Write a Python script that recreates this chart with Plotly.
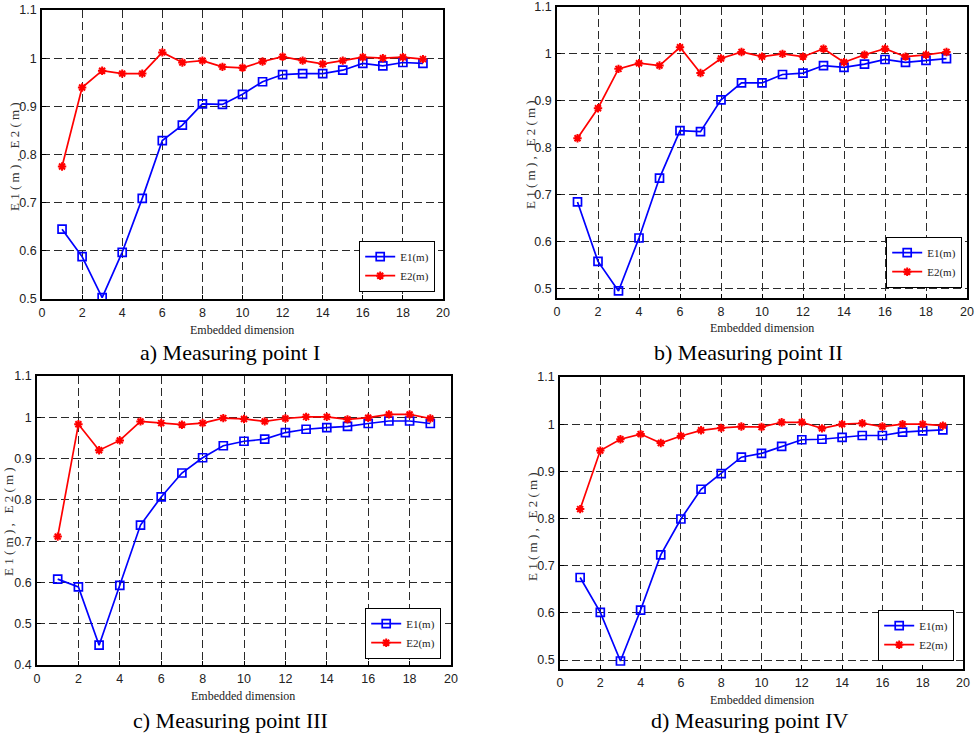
import plotly.graph_objects as go

W, H = 976, 737

dims = list(range(1, 20))

e1_a = [0.645, 0.588, 0.503, 0.597, 0.709, 0.829, 0.861, 0.905, 0.904, 0.925,
        0.951, 0.966, 0.968, 0.968, 0.975, 0.989, 0.984, 0.991, 0.989]
e2_a = [0.775, 0.939, 0.974, 0.968, 0.968, 1.012, 0.991, 0.995, 0.982, 0.980,
        0.993, 1.003, 0.995, 0.988, 0.995, 1.002, 1.000, 1.002, 0.998]

e1_b = [0.684, 0.557, 0.494, 0.607, 0.735, 0.836, 0.834, 0.902, 0.938, 0.938,
        0.956, 0.959, 0.975, 0.971, 0.978, 0.988, 0.982, 0.986, 0.990]
e2_b = [0.820, 0.884, 0.968, 0.980, 0.975, 1.014, 0.959, 0.990, 1.004, 0.994,
        1.000, 0.994, 1.011, 0.982, 0.998, 1.011, 0.994, 0.998, 1.004]

e1_c = [0.608, 0.589, 0.448, 0.593, 0.739, 0.807, 0.865, 0.902, 0.931, 0.942,
        0.947, 0.963, 0.971, 0.975, 0.978, 0.985, 0.991, 0.991, 0.985]
e2_c = [0.711, 0.983, 0.920, 0.944, 0.990, 0.986, 0.982, 0.986, 0.998, 0.996,
        0.990, 0.997, 1.001, 1.001, 0.995, 0.999, 1.007, 1.007, 0.997]

e1_d = [0.675, 0.601, 0.498, 0.606, 0.723, 0.799, 0.862, 0.895, 0.930, 0.938,
        0.953, 0.967, 0.968, 0.972, 0.976, 0.976, 0.983, 0.986, 0.988]
e2_d = [0.820, 0.944, 0.968, 0.979, 0.960, 0.975, 0.987, 0.992, 0.995, 0.994,
        1.004, 1.004, 0.991, 1.000, 1.002, 0.995, 1.000, 1.000, 0.997]

captions = ["a) Measuring point I", "b) Measuring point II",
            "c) Measuring point III", "d) Measuring point IV"]
series_names = ["E1(m)", "E2(m)"]
x_title = "Embedded dimension"
y_title = "E 1 ( m ) ,   E 2 ( m )"

panels = [
    dict(e1=e1_a, e2=e2_a, box=(42, 443, 10, 299), yr=(0.5, 1.1),
         leg=(435, 292), yt=(14, 157), xt=(242, 330), cap=(230, 353)),
    dict(e1=e1_b, e2=e2_b, box=(557, 967, 7, 298), yr=(0.479, 1.1),
         leg=(962, 288), yt=(530, 155), xt=(762, 328), cap=(748, 353)),
    dict(e1=e1_c, e2=e2_c, box=(37, 451, 376, 665), yr=(0.4, 1.1),
         leg=(441, 659), yt=(8, 522), xt=(243, 696), cap=(230, 720)),
    dict(e1=e1_d, e2=e2_d, box=(560, 963, 377, 669), yr=(0.481, 1.1),
         leg=(954, 661), yt=(532, 527), xt=(762, 700), cap=(749, 720)),
]

fig = go.Figure()
tickfont = dict(family="Liberation Sans Narrow, Liberation Sans, Arial", size=12.5, color="#222")
serif = "Liberation Serif, Times New Roman, serif"
annotations = []
for i, p in enumerate(panels):
    n = "" if i == 0 else str(i + 1)
    xa, ya = "x" + n, "y" + n
    leg = "legend" + n
    fig.add_trace(go.Scatter(
        x=dims, y=p["e1"], name=series_names[0], xaxis=xa, yaxis=ya, legend=leg,
        mode="lines+markers", line=dict(color="#0000ff", width=1.7),
        marker=dict(symbol="square-open", size=8, color="#0000ff", line=dict(width=1.7))))
    fig.add_trace(go.Scatter(
        x=dims, y=p["e2"], name=series_names[1], xaxis=xa, yaxis=ya, legend=leg,
        mode="lines+markers", line=dict(color="#ff0000", width=1.7),
        marker=dict(symbol="asterisk-open", size=7, color="#ff0000", line=dict(width=2, color="#ff0000"))))
    x0, x1, y0, y1 = p["box"]
    axcommon = dict(showline=True, linecolor="black", linewidth=1.5, mirror=True,
                    ticks="inside", ticklen=4, tickcolor="black", tickwidth=1,
                    showgrid=True, gridcolor="#2a2a2a", gridwidth=1.3, griddash="8px,4px",
                    zeroline=False, tickfont=tickfont, automargin=False)
    fig.layout["xaxis" + n] = dict(domain=[x0 / W, x1 / W], anchor=ya, range=[0, 20],
                                   tickmode="linear", tick0=0, dtick=2, ticklabelstandoff=1, **axcommon)
    tv = [v / 10 for v in range(4, 12) if v / 10 >= p["yr"][0] - 1e-9]
    fig.layout["yaxis" + n] = dict(domain=[1 - y1 / H, 1 - y0 / H], anchor=xa, range=list(p["yr"]),
                                   tickmode="array", tickvals=tv, ticktext=["%g" % v for v in tv],
                                   ticklabelstandoff=1, **axcommon)
    lr, lb = p["leg"]
    fig.layout[leg] = dict(x=lr / W, y=1 - lb / H, xanchor="right", yanchor="bottom",
                           bgcolor="white", bordercolor="black", borderwidth=1.2,
                           font=dict(family=serif, size=11, color="#222"),
                           tracegroupgap=0, itemwidth=30)
    annotations.append(dict(text=y_title, x=p["yt"][0] / W, y=1 - p["yt"][1] / H, xref="paper", yref="paper",
                            xanchor="center", yanchor="middle",
                            textangle=-90, showarrow=False, font=dict(family=serif, size=13, color="#333")))
    annotations.append(dict(text=x_title, x=p["xt"][0] / W, y=1 - p["xt"][1] / H, xref="paper", yref="paper",
                            xanchor="center", yanchor="middle",
                            showarrow=False, font=dict(family=serif, size=12, color="#222")))
    annotations.append(dict(text=captions[i], x=p["cap"][0] / W, y=1 - p["cap"][1] / H, xref="paper", yref="paper",
                            xanchor="center", yanchor="middle",
                            showarrow=False, font=dict(family=serif, size=22, color="black")))

fig.update_layout(width=W, height=H, margin=dict(l=0, r=0, t=0, b=0, autoexpand=False),
                  paper_bgcolor="white", plot_bgcolor="white",
                  annotations=annotations, showlegend=True)
fig.write_html("out.html")
